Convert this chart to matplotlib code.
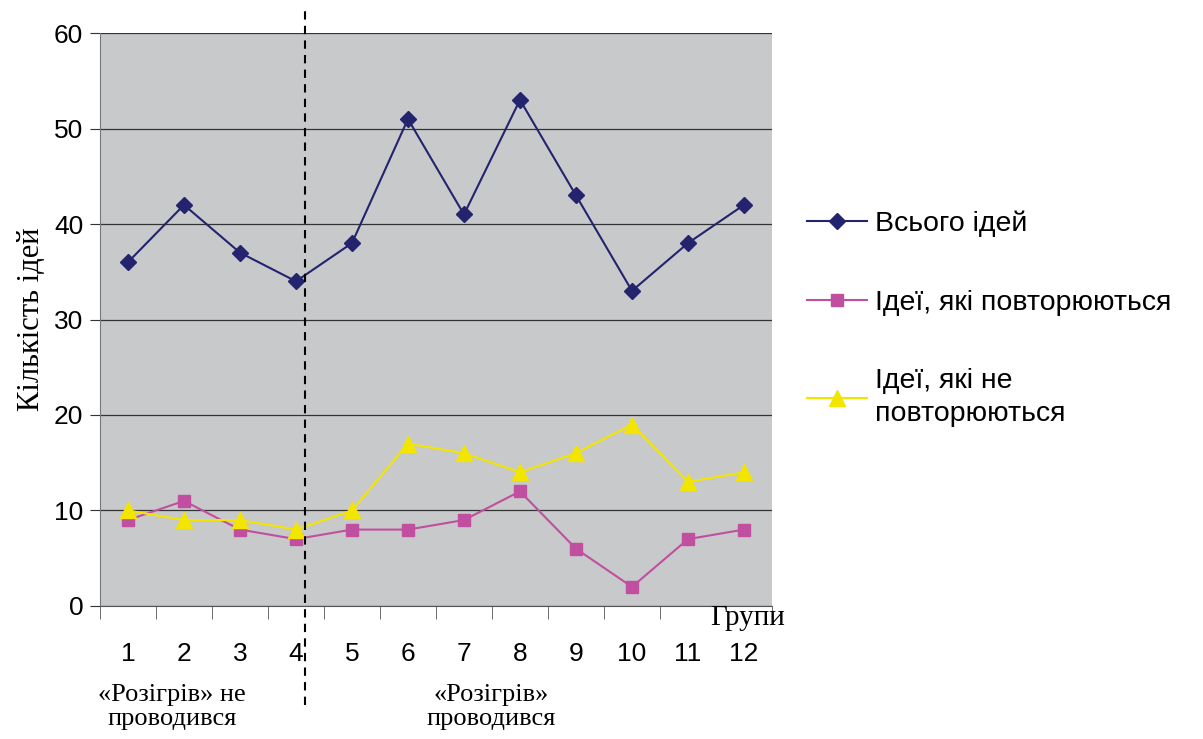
import matplotlib.pyplot as plt
from matplotlib.ticker import FixedLocator

groups = list(range(1, 13))
total_ideas = [36, 42, 37, 34, 38, 51, 41, 53, 43, 33, 38, 42]
repeated = [9, 11, 8, 7, 8, 8, 9, 12, 6, 2, 7, 8]
not_repeated = [10, 9, 9, 8, 10, 17, 16, 14, 16, 19, 13, 14]

labels = ["Всього ідей", "Ідеї, які повторюються", "Ідеї, які не\nповторюються"]

sans = ["Liberation Sans", "DejaVu Sans"]
serif = ["Liberation Serif", "DejaVu Serif"]
plt.rcParams["font.family"] = sans

fig = plt.figure(figsize=(12.03, 7.39), dpi=100)
ax = fig.add_axes([0.0831, 0.18, 0.5586, 0.7753])
ax.set_facecolor("#c8c9cb")

ax.plot(groups, total_ideas, color="#23236e", lw=1.5, marker="D", ms=8, label=labels[0])
ax.plot(groups, repeated, color="#c04f9f", lw=1.5, marker="s", ms=9, label=labels[1])
ax.plot(groups, not_repeated, color="#f2e600", lw=1.5, marker="^", ms=12, label=labels[2])

ax.set_xlim(0.5, 12.5)
ax.set_ylim(0, 60)
ax.set_yticks(range(0, 61, 10))
ax.yaxis.grid(True, color="#333333", lw=0.9)
ax.set_axisbelow(True)
ax.set_xticks(groups)
ax.xaxis.set_minor_locator(FixedLocator([x + 0.5 for x in range(0, 13)]))
ax.tick_params(axis="x", which="major", length=0, pad=26, labelsize=19)
ax.tick_params(axis="x", which="minor", length=9, direction="out", color="#555555")
ax.tick_params(axis="y", length=7, direction="out", labelsize=19, color="#333333", pad=5)

for s in ["top", "right"]:
    ax.spines[s].set_visible(False)
ax.spines["left"].set_color("#777777")
ax.spines["bottom"].set_color("#555555")

ax.set_ylabel("Кількість ідей", family=serif, fontsize=22, labelpad=6)
ax.text(0.964, -0.021, "Групи", transform=ax.transAxes, family=serif, fontsize=21,
        ha="center", va="center")

# dashed separator between groups with and without warm-up
ax.axvline(4.16, ymin=-0.173, ymax=1.04, color="black", lw=1.5, ls=(0, (4, 3)), clip_on=False)

fig.text(172 / 1203, 1 - 707 / 739, "«Розігрів» не\nпроводився", family=serif, fontsize=19,
         ha="center", va="center", linespacing=1.12)
fig.text(491 / 1203, 1 - 707 / 739, "«Розігрів»\nпроводився", family=serif, fontsize=19,
         ha="center", va="center", linespacing=1.12)

leg = ax.legend(loc="upper left", bbox_to_anchor=(1.014, 0.735), frameon=False, fontsize=20.5,
                handlelength=2.1, handletextpad=0.3, labelspacing=1.85)
for t in leg.get_texts():
    t.set_linespacing(1.35)

fig.savefig("out.png", dpi=100)
